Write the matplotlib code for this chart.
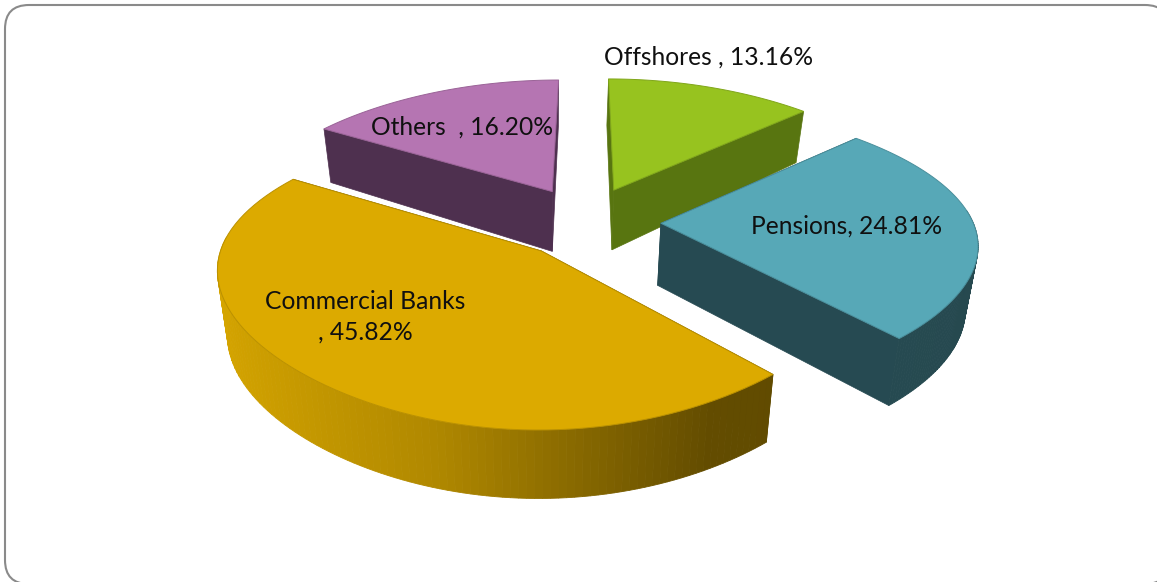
# -*- coding: utf-8 -*-
import numpy as np
import matplotlib
matplotlib.use("Agg")
import matplotlib.pyplot as plt
from matplotlib.patches import FancyBboxPatch, Polygon

categories = ["Offshores", "Pensions", "Commercial Banks", "Others"]
shares = [13.16, 24.81, 45.82, 16.20]
labels = ["Offshores , 13.16%", "Pensions, 24.81%", "Commercial Banks\n, 45.82%", "Others  , 16.20%"]
top_colors = ["#97c31f", "#57a8b7", "#dcaa00", "#b575b2"]
wall_colors = ["#587510", "#264a52", "#5f4800", "#4e304f"]

# projection of the tilted disc onto the canvas (pixels)
CX, CY = 586, 222
AX_U, AX_V = 312, 139
K_V = 0.164
K_Z = 0.03
VANISH_X = 552
EXPLODE_U = [0.23, 0.24, 0.22, 0.23]
EXPLODE_V = 0.26


def project(u, v, z=0.0):
    u, v = np.asarray(u, float), np.asarray(v, float)
    s = 1.0 / (1 + K_V * v)
    sx = 1.0 / (1 + 0.15 * v + 0.06 * v ** 2)
    x = CX + AX_U * u * sx
    x = x - (x - VANISH_X) * K_Z * z
    # the slab looks thinner towards the back
    y = CY - AX_V * v * s + (62 - 9 * v - 3 * v ** 2) * z
    return x, y


def ring_points(t0, t1, off_u, off_v, z, n=80):
    th = np.linspace(t0, t1, n)
    return project(np.sin(th) + off_u, np.cos(th) + off_v, z)


def mix(color, factor):
    return tuple(c * factor for c in matplotlib.colors.to_rgb(color))


fig = plt.figure(figsize=(11.57, 5.82), dpi=100)
ax = fig.add_axes([0, 0, 1, 1])
ax.set_xlim(0, 1157)
ax.set_ylim(582, 0)
ax.axis("off")

# rounded frame, its right and bottom sides run off the canvas
ax.add_patch(FancyBboxPatch((5, 5), 1164, 579, boxstyle="round,pad=0,rounding_size=24",
                            fc="white", ec="#8a8a8a", lw=1.5))

edges = np.cumsum([0] + shares) / sum(shares) * 2 * np.pi

# back slices first so the front ones overlap them
for i in [3, 0, 1, 2]:
    t0, t1 = edges[i], edges[i + 1]
    mid = (t0 + t1) / 2
    off_u, off_v = EXPLODE_U[i] * np.sin(mid), EXPLODE_V * np.cos(mid)

    # radial walls
    for t in (t0, t1):
        xa, ya = project(off_u, off_v, 0)
        xb, yb = project(np.sin(t) + off_u, np.cos(t) + off_v, 0)
        xc, yc = project(np.sin(t) + off_u, np.cos(t) + off_v, 1)
        xd, yd = project(off_u, off_v, 1)
        ax.add_patch(Polygon([(xa, ya), (xb, yb), (xc, yc), (xd, yd)],
                             fc=wall_colors[i], ec=wall_colors[i], lw=0.5))

    # outer rim, lit from the left
    th = np.linspace(t0, t1, 121)
    for a, b in zip(th[:-1], th[1:]):
        m = (a + b) / 2
        if np.cos(m) > 0.1:
            continue
        shade = np.interp(np.sin(m), [-1, -0.3, 0.1, 0.5, 1], [0.97, 0.8, 0.62, 0.45, 0.43])
        xt, yt = ring_points(a, b, off_u, off_v, 0, 3)
        xb, yb = ring_points(b, a, off_u, off_v, 1, 3)
        ax.add_patch(Polygon(np.column_stack([np.r_[xt, xb], np.r_[yt, yb]]),
                             fc=mix(top_colors[i], shade), ec=mix(top_colors[i], shade), lw=0.6))

    # top face
    xr, yr = ring_points(t0, t1, off_u, off_v, 0)
    xa, ya = project(off_u, off_v, 0)
    ax.add_patch(Polygon(np.column_stack([np.r_[xa, xr], np.r_[ya, yr]]),
                         fc=top_colors[i], ec=mix(top_colors[i], 0.85), lw=0.7, joinstyle="round"))

label_pos = [(709, 57), (847, 226), (365, 317), (462, 127)]
for text, (x, y) in zip(labels, label_pos):
    ax.text(x, y, text, ha="center", va="center", fontsize=17.7, color="#101010",
            family="Lato", linespacing=1.4)

plt.savefig("out.png", dpi=100)
